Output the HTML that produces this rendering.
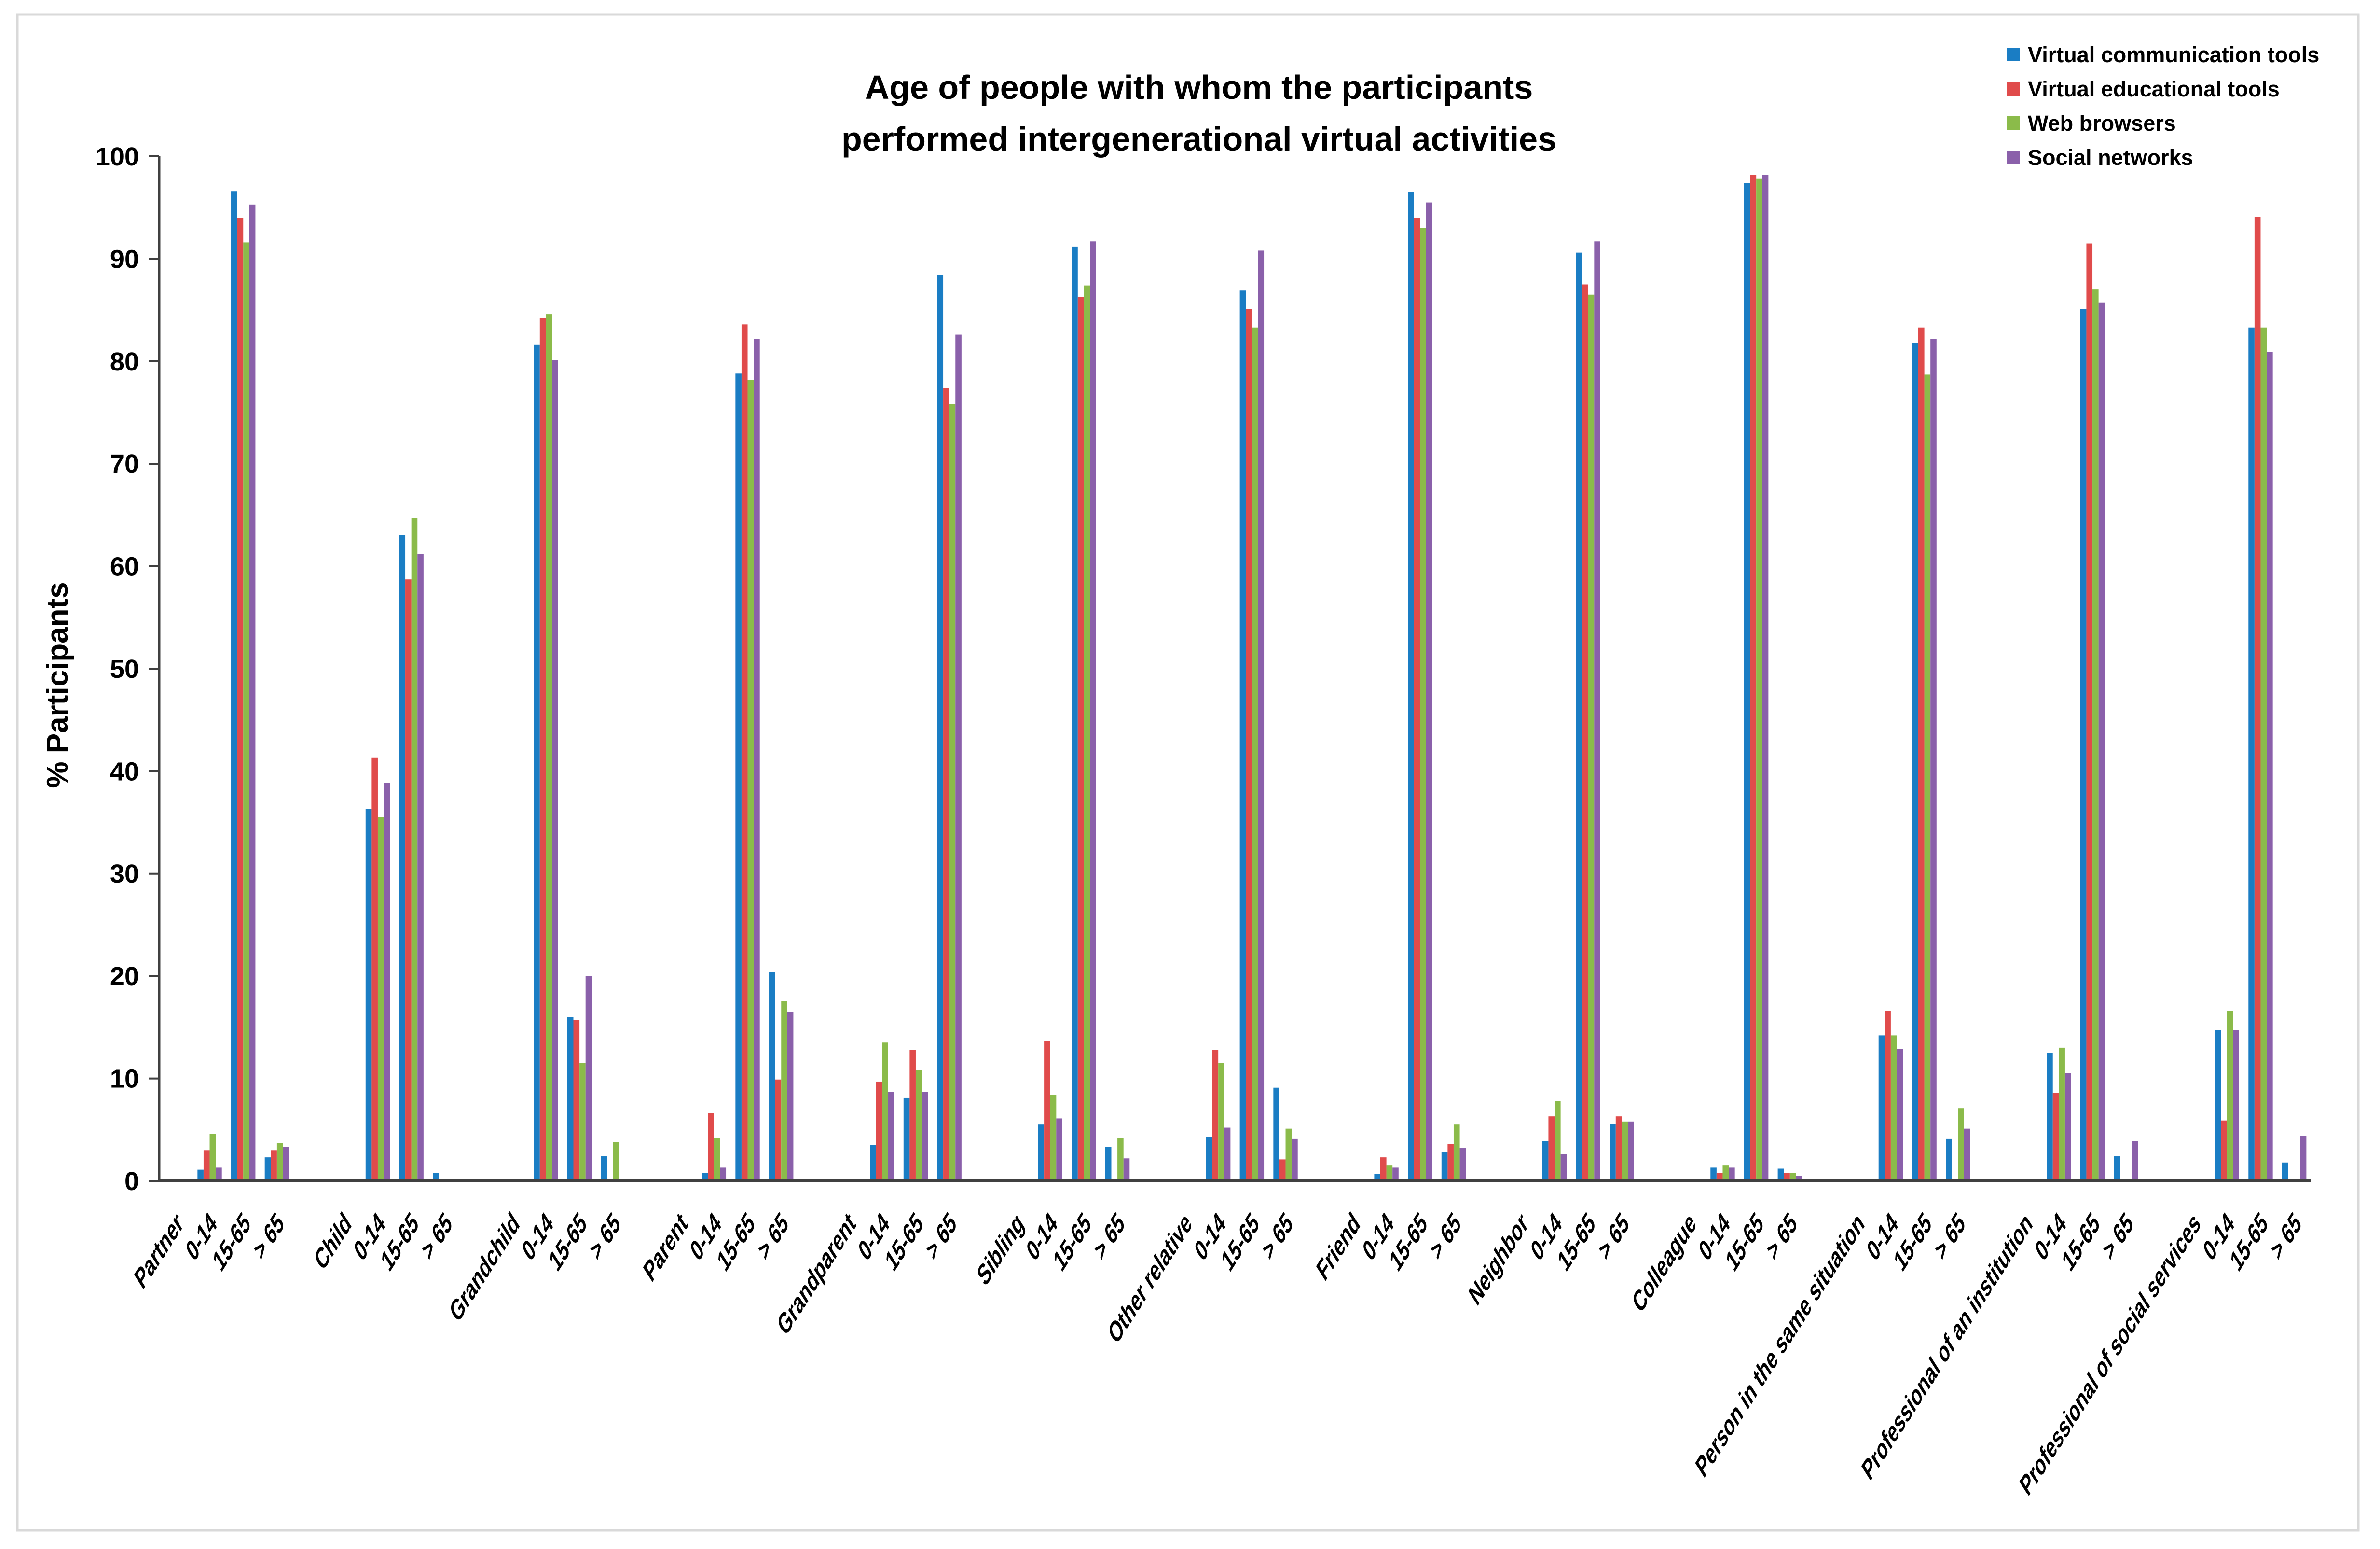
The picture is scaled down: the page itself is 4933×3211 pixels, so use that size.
<!DOCTYPE html>
<html><head><meta charset="utf-8"><style>
html,body{margin:0;padding:0;background:#fff}
svg{display:block;font-family:"Liberation Sans",sans-serif}
</style></head><body>
<svg id="chart" width="4933" height="3211" viewBox="0 0 4933 3211" xmlns="http://www.w3.org/2000/svg">
<rect x="36" y="30" width="4852" height="3142" fill="#fff" stroke="#d9d9d9" stroke-width="5"/>
<text x="2485" y="205" text-anchor="middle" font-size="70" font-weight="bold">Age of people with whom the participants</text>
<text x="2485" y="312" text-anchor="middle" font-size="70" font-weight="bold">performed intergenerational virtual activities</text>
<text transform="translate(140,1420) rotate(-90)" text-anchor="middle" font-size="62" font-weight="bold">% Participants</text>
<g id="plot"></g>
<g id="legend"></g>
</svg>
<script>
const groups = ["Partner","Child","Grandchild","Parent","Grandparent","Sibling","Other relative","Friend","Neighbor","Colleague","Person in the same situation","Professional of an institution","Professional of social services"];
const ages = ["0-14","15-65","> 65"];
const seriesNames = ["Virtual communication tools","Virtual educational tools","Web browsers","Social networks"];
const yTicks = [0,10,20,30,40,50,60,70,80,90,100];
const comm = [[1.1,96.6,2.3],[36.3,63,0.8],[81.6,16,2.4],[0.8,78.8,20.4],[3.5,8.1,88.4],[5.5,91.2,3.3],[4.3,86.9,9.1],[0.7,96.5,2.8],[3.9,90.6,5.6],[1.3,97.4,1.2],[14.2,81.8,4.1],[12.5,85.1,2.4],[14.7,83.3,1.8]];
const edu = [[3,94,3],[41.3,58.7,0],[84.2,15.7,0],[6.6,83.6,9.9],[9.7,12.8,77.4],[13.7,86.3,0],[12.8,85.1,2.1],[2.3,94,3.6],[6.3,87.5,6.3],[0.8,98.2,0.8],[16.6,83.3,0],[8.6,91.5,0],[5.9,94.1,0]];
const web = [[4.6,91.6,3.7],[35.5,64.7,0],[84.6,11.5,3.8],[4.2,78.2,17.6],[13.5,10.8,75.8],[8.4,87.4,4.2],[11.5,83.3,5.1],[1.5,93,5.5],[7.8,86.5,5.8],[1.5,97.8,0.8],[14.2,78.7,7.1],[13,87,0],[16.6,83.3,0]];
const social = [[1.3,95.3,3.3],[38.8,61.2,0],[80.1,20,0],[1.3,82.2,16.5],[8.7,8.7,82.6],[6.1,91.7,2.2],[5.2,90.8,4.1],[1.3,95.5,3.2],[2.6,91.7,5.8],[1.3,98.2,0.5],[12.9,82.2,5.1],[10.5,85.7,3.9],[14.7,80.9,4.4]];
const colors = ["#1a7dc4","#e04b4b","#8bbb4a","#8a60aa"];

const NS="http://www.w3.org/2000/svg";
const X0=330, X1=4790, Y0=2448, Y100=324;
const nSlots = groups.length*5-1;
const slotW=(X1-X0)/nSlots;
const y = v => Y0 - (v/100)*(Y0-Y100);
const slotX = i => X0 + slotW*(i+0.5);
const plot=document.getElementById('plot');
function mk(tag,attrs,parent){const e=document.createElementNS(NS,tag);for(const k in attrs)e.setAttribute(k,attrs[k]);parent.appendChild(e);return e;}

let ax=mk('line',{x1:X0,y1:Y100,x2:X0,y2:Y0,stroke:'#404040','stroke-width':5},plot);


yTicks.forEach(t=>{
  const tk=mk('line',{x1:X0-22,x2:X0,y1:y(t),y2:y(t),stroke:'#404040','stroke-width':4},plot);
  
  
  const tl=mk('text',{x:X0-42,y:y(t)+19,'text-anchor':'end','font-size':54,'font-weight':'bold'},plot);
  tl.textContent=t;
  
  
});

const all=[comm,edu,web,social];
const barW=12.6;
const LF=40;
function squeeze(t){const w=t.getComputedTextLength();t.setAttribute('textLength',(w*0.87).toFixed(1));t.setAttribute('lengthAdjust','spacingAndGlyphs');}
function lbl(cx){return `translate(${cx+17},${Y0+92}) scale(1,1.57) rotate(-45)`;}
groups.forEach((g,gi)=>{
  const base=gi*5;
  const gl=mk('text',{'text-anchor':'end','font-size':LF,'font-weight':'bold',transform:lbl(slotX(base))},plot);
  gl.textContent=g;
  
  
  squeeze(gl);
  ages.forEach((a,ai)=>{
    const cx=slotX(base+1+ai);
    const al=mk('text',{'text-anchor':'end','font-size':LF,'font-weight':'bold',transform:lbl(cx)},plot);
    al.textContent=a;
    
    
    squeeze(al);
    all.forEach((s,si)=>{
      const v=s[gi][ai];
      if(v<=0) return;
      const r=mk('rect',{x:cx-2*barW+si*barW,y:y(v),width:barW,height:Y0-y(v),fill:colors[si]},plot);
      
      
    });
  });
});
const xa=mk('line',{x1:X0,y1:Y0,x2:X1,y2:Y0,stroke:'#404040','stroke-width':6},plot);



const leg=document.getElementById('legend');
seriesNames.forEach((n,i)=>{
  const cy=113+i*71;
  const sq=mk('rect',{x:4160,y:cy-14,width:26,height:28,fill:colors[i]},leg);
  
  
  const t=mk('text',{x:4203,y:cy+16,'font-size':45,'font-weight':'bold'},leg);
  t.textContent=n;
  
  
});
</script>
</body></html>
